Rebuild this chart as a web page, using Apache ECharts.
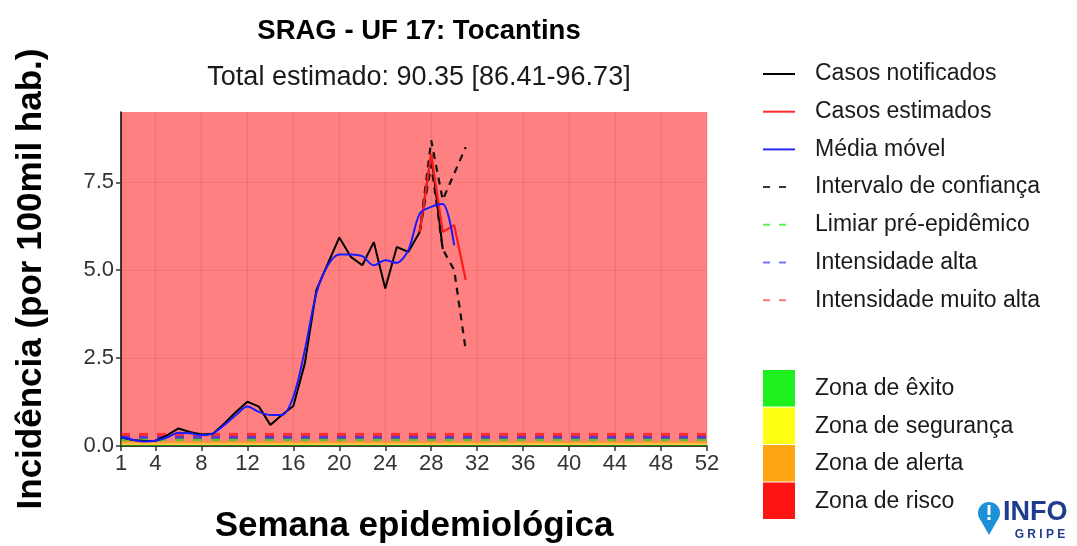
<!DOCTYPE html>
<html>
<head>
<meta charset="utf-8">
<script src="https://cdn.jsdelivr.net/npm/echarts@6/dist/echarts.min.js"></script>
<style>
html,body{margin:0;padding:0;background:#fff;}
#chart{width:1077px;height:546px;}
</style>
</head>
<body>
<div id="chart"></div>
<script>
// ---- data ----
const xTicks = [1, 4, 8, 12, 16, 20, 24, 28, 32, 36, 40, 44, 48, 52];
const yTicks = [0, 2.5, 5, 7.5];
const notifiedStart = 1;
const notified = [0.25, 0.17, 0.14, 0.15, 0.30, 0.50, 0.40, 0.33, 0.35, 0.64,
  0.97, 1.26, 1.12, 0.60, 0.88, 1.14, 2.35, 4.43, 5.19, 5.93,
  5.38, 5.14, 5.80, 4.48, 5.66, 5.52, 6.09, 8.30, 5.60];
const movingAvgStart = 1;
const movingAvg = [0.25, 0.18, 0.13, 0.15, 0.24, 0.38, 0.36, 0.31, 0.36, 0.60,
  0.88, 1.12, 0.97, 0.88, 0.88, 1.40, 2.73, 4.34, 5.14, 5.45,
  5.45, 5.40, 5.14, 5.28, 5.21, 5.57, 6.61, 6.80, 6.88, 5.71];
const estimatedStart = 27;
const estimated = [6.09, 8.31, 6.09, 6.28, 4.72];
const ciUpper = [6.09, 8.69, 7.00, 7.75, 8.50];
const ciLower = [6.09, 8.00, 5.60, 5.00, 2.73];
const thrPre = 0.18;      // Limiar pré-epidêmico
const thrHigh = 0.25;     // Intensidade alta
const thrVeryHigh = 0.33; // Intensidade muito alta
const zoneNames = ['Zona de êxito', 'Zona de segurança', 'Zona de alerta', 'Zona de risco'];
const zoneLimits = [0, 0.03, 0.09, 0.15, 9.5];
const lineLegend = ['Casos notificados', 'Casos estimados', 'Média móvel', 'Intervalo de confiança',
  'Limiar pré-epidêmico', 'Intensidade alta', 'Intensidade muito alta'];

const FONT = 'Liberation Sans, Arial, sans-serif';
const toPairs = (arr, start) => arr.map((v, i) => [start + i, v]);
const flat = (v) => [[1, v], [52, v]];

const zoneBandColors = ['rgba(0,255,0,0.5)', 'rgba(255,255,0,0.5)', 'rgba(255,165,0,0.5)'];
const zoneLegendColors = ['#1EF01E', '#FFFF14', '#FFA514', '#FF1414'];

const chart = echarts.init(document.getElementById('chart'), null, {renderer: 'canvas'});

const series = [
  {
    name: 'zones', type: 'line', data: [], silent: true,
    markArea: {
      silent: true,
      data: zoneBandColors.map((c, i) => [
        {yAxis: zoneLimits[i], itemStyle: {color: c}},
        {yAxis: zoneLimits[i + 1]}
      ])
    }
  },
  {name: 'Limiar pré-epidêmico', type: 'line', data: flat(thrPre), symbol: 'none',
   lineStyle: {color: 'rgba(0,230,0,0.6)', width: 3, type: [9, 9]}, z: 3},
  {name: 'Intensidade alta', type: 'line', data: flat(thrHigh), symbol: 'none',
   lineStyle: {color: 'rgba(0,0,255,0.6)', width: 3, type: [9, 9]}, z: 3},
  {name: 'Intensidade muito alta', type: 'line', data: flat(thrVeryHigh), symbol: 'none',
   lineStyle: {color: 'rgba(255,0,0,0.65)', width: 3, type: [9, 9]}, z: 3},
  {name: 'Casos notificados', type: 'line', data: toPairs(notified, notifiedStart), symbol: 'none',
   lineStyle: {color: '#000', width: 2}, z: 4},
  {name: 'Intervalo de confiança', type: 'line', data: toPairs(ciUpper, estimatedStart), symbol: 'none',
   lineStyle: {color: '#111', width: 2.2, type: [7, 6]}, z: 5},
  {name: 'Intervalo de confiança', type: 'line', data: toPairs(ciLower, estimatedStart), symbol: 'none',
   lineStyle: {color: '#111', width: 2.2, type: [7, 6]}, z: 5},
  {name: 'Casos estimados', type: 'line', data: toPairs(estimated, estimatedStart), symbol: 'none',
   lineStyle: {color: '#FF1A1A', width: 2.2}, z: 6},
  {name: 'Média móvel', type: 'line', data: toPairs(movingAvg, movingAvgStart), symbol: 'none', smooth: 0.3,
   lineStyle: {color: '#1A1AFF', width: 2}, z: 7}
];

// legend drawn as graphic elements
const legendStyles = [
  {stroke: '#000', dash: null},
  {stroke: '#FF2A2A', dash: null},
  {stroke: '#2A2AFF', dash: null},
  {stroke: '#333', dash: [7, 9]},
  {stroke: 'rgba(0,235,0,0.65)', dash: [7, 9]},
  {stroke: 'rgba(40,40,255,0.65)', dash: [7, 9]},
  {stroke: 'rgba(255,40,40,0.65)', dash: [7, 9]}
];
const graphics = [];
const legTop = 74, legStep = 37.7;
lineLegend.forEach((name, i) => {
  const y = legTop + i * legStep;
  const st = {stroke: legendStyles[i].stroke, lineWidth: 2};
  if (legendStyles[i].dash) st.lineDash = legendStyles[i].dash;
  graphics.push({type: 'line', shape: {x1: 763, y1: y, x2: 795, y2: y}, style: st});
  graphics.push({type: 'text', x: 815, y: y,
    style: {text: name, fill: '#1a1a1a', font: '23px ' + FONT, textVerticalAlign: 'middle'}});
});
const zTop = 370, zStep = 37.5;
zoneNames.forEach((name, i) => {
  graphics.push({type: 'rect', shape: {x: 763, y: zTop + i * zStep, width: 32, height: zStep - 1},
    style: {fill: zoneLegendColors[i]}});
  graphics.push({type: 'text', x: 815, y: zTop + i * zStep + zStep / 2,
    style: {text: name, fill: '#1a1a1a', font: '23px ' + FONT, textVerticalAlign: 'middle'}});
});
// InfoGripe logo
graphics.push({type: 'circle', shape: {cx: 989, cy: 513, r: 11}, style: {fill: '#1B8FD8'}});
graphics.push({type: 'polygon', shape: {points: [[980, 519], [998, 519], [989, 535]]}, style: {fill: '#1B8FD8'}});
graphics.push({type: 'rect', shape: {x: 987.5, y: 505, width: 3, height: 10}, style: {fill: '#fff'}});
graphics.push({type: 'rect', shape: {x: 987.5, y: 517, width: 3, height: 3}, style: {fill: '#fff'}});
graphics.push({type: 'text', x: 1003, y: 513, style: {text: 'INFO', fill: '#1F3C8C',
  font: 'bold 27px ' + FONT, textVerticalAlign: 'middle'}});
graphics.push({type: 'text', x: 1040, y: 535, style: {text: 'G R I P E', fill: '#1F3C8C',
  font: 'bold 12px ' + FONT, textAlign: 'center', textVerticalAlign: 'middle'}});

const option = {
  backgroundColor: '#fff',
  animation: false,
  title: [
    {text: 'SRAG - UF 17: Tocantins', left: 414, top: 12, textAlign: 'center',
     textStyle: {fontFamily: FONT, fontSize: 27.5, fontWeight: 'bold', color: '#000'}},
    {text: 'Total estimado: 90.35 [86.41-96.73]', left: 414, top: 59, textAlign: 'center',
     textStyle: {fontFamily: FONT, fontSize: 27, fontWeight: 'normal', color: '#1a1a1a'}}
  ],
  grid: {left: 121, right: 370, top: 112, bottom: 100, show: true, backgroundColor: '#FF8080',
         borderWidth: 0, containLabel: false, outerBoundsMode: 'none'},
  xAxis: {
    type: 'value', min: 1, max: 52,
    name: 'Semana epidemiológica', nameLocation: 'middle', nameGap: 63,
    nameTextStyle: {fontFamily: FONT, fontSize: 35, fontWeight: 'bold', color: '#000'},
    axisLine: {show: true, onZero: false, lineStyle: {color: '#000', width: 1.5}},
    axisTick: {show: true, length: 5, customValues: xTicks, lineStyle: {color: '#333', width: 1.5}},
    axisLabel: {customValues: xTicks, fontFamily: FONT, fontSize: 22, color: '#333', margin: 7,
                showMinLabel: true, showMaxLabel: true},
    splitLine: {show: true, lineStyle: {color: 'rgba(150,30,30,0.12)', width: 1.2}}
  },
  yAxis: {
    type: 'value', min: 0, max: 9.5,
    name: 'Incidência (por 100mil hab.)', nameLocation: 'middle', nameGap: 72,
    nameTextStyle: {fontFamily: FONT, fontSize: 35, fontWeight: 'bold', color: '#000'},
    axisLine: {show: true, onZero: false, lineStyle: {color: '#000', width: 1.5}},
    axisTick: {show: true, length: 5, customValues: yTicks, lineStyle: {color: '#333', width: 1.5}},
    axisLabel: {customValues: yTicks, fontFamily: FONT, fontSize: 22, color: '#333', margin: 7,
                formatter: (v) => v.toFixed(1)},
    splitLine: {show: true, lineStyle: {color: 'rgba(150,30,30,0.12)', width: 1.2}}
  },
  series: series,
  graphic: graphics
};
chart.setOption(option);
</script>
</body>
</html>
